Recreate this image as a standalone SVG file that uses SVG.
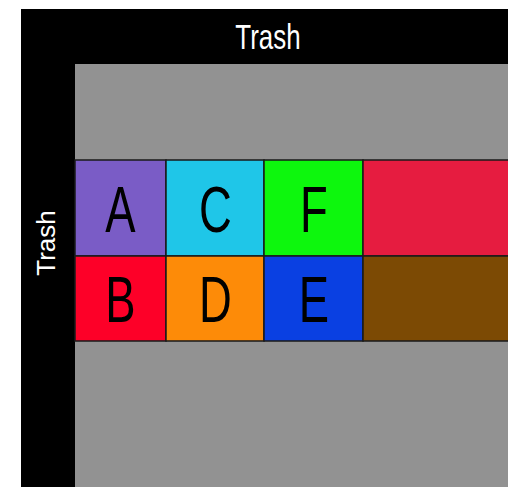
<svg xmlns="http://www.w3.org/2000/svg" width="508" height="487" viewBox="0 0 508 487">
<style>
.cell{stroke:#1a1a1a;stroke-width:1.5}
.lbl{font-family:"Liberation Sans",Arial,sans-serif;font-size:64px;fill:#000;text-anchor:middle}
.trash{font-family:"Liberation Sans",Arial,sans-serif;fill:#fff;text-anchor:middle}
</style>
<rect x="0" y="0" width="508" height="487" fill="#fff"/>
<g id="frame">
<rect x="21" y="9" width="487" height="478" fill="#000"/>
<rect x="75" y="64" width="433" height="423" fill="#929292"/>
</g>
<g id="trash-top">
<text class="trash" font-size="36" transform="translate(268,49) scale(0.72,1)">Trash</text>
</g>
<g id="trash-left">
<text class="trash" font-size="26" transform="translate(55,243) rotate(-90)">Trash</text>
</g>
<g id="A"><rect class="cell" x="75" y="160" width="91" height="96" fill="#7a5cc6"/><text class="lbl" transform="translate(120.5,231.5) scale(0.71,1)">A</text></g>
<g id="C"><rect class="cell" x="166" y="160" width="98" height="96" fill="#1fc6e8"/><text class="lbl" transform="translate(215.5,231.5) scale(0.71,1)">C</text></g>
<g id="F"><rect class="cell" x="264" y="160" width="99" height="96" fill="#0df70d"/><text class="lbl" transform="translate(314,231.5) scale(0.71,1)">F</text></g>
<g id="R1"><rect class="cell" x="363" y="160" width="147" height="96" fill="#e61c40"/></g>
<g id="B"><rect class="cell" x="75" y="256" width="91" height="85" fill="#fd0028"/><text class="lbl" transform="translate(120.5,321.7) scale(0.71,1)">B</text></g>
<g id="D"><rect class="cell" x="166" y="256" width="98" height="85" fill="#fd8b08"/><text class="lbl" transform="translate(215.5,321.7) scale(0.71,1)">D</text></g>
<g id="E"><rect class="cell" x="264" y="256" width="99" height="85" fill="#0a40e2"/><text class="lbl" transform="translate(314,321.7) scale(0.71,1)">E</text></g>
<g id="R2"><rect class="cell" x="363" y="256" width="147" height="85" fill="#7c4a04"/></g>
<g id="connectors"></g>
</svg>
